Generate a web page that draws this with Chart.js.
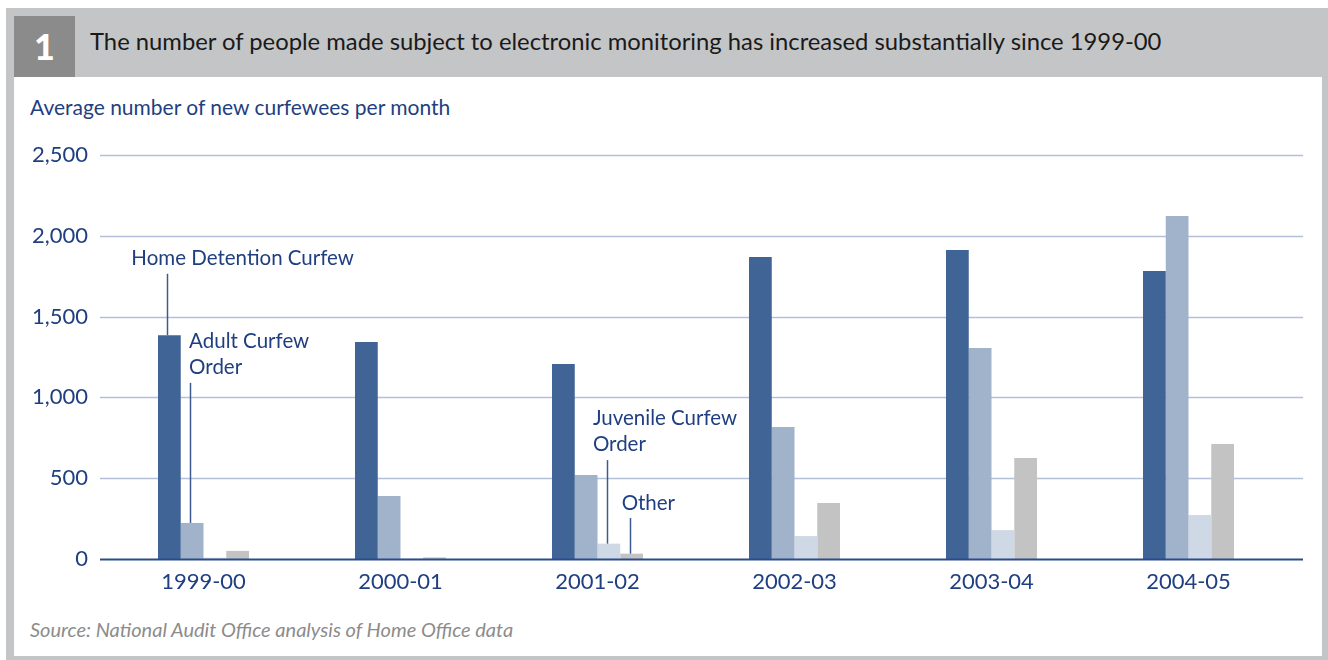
<!DOCTYPE html>
<html>
<head>
<meta charset="utf-8">
<script src="https://cdn.jsdelivr.net/npm/chart.js@4"></script>
<style>
  html, body { margin: 0; padding: 0; background: #fff; }
  body { width: 1328px; height: 660px; position: relative; overflow: hidden; font-family: Lato, "Noto Sans", sans-serif; }
  .frame { position: absolute; left: 6px; top: 8px; width: 1322px; height: 652px; background: #c4c5c6; }
  .num { position: absolute; left: 14px; top: 16px; width: 61px; height: 61px; background: #8b8b8c; color: #fff;
         font-weight: 900; font-size: 36px; line-height: 61px; text-align: center; }
  .title { position: absolute; left: 90px; top: 27px; font-size: 23.8px; color: #1a1a1a; white-space: nowrap; }
  .panel { position: absolute; left: 14px; top: 77px; width: 1308px; height: 579px; background: #fff; }
  .ylabel { position: absolute; left: 30px; top: 94px; font-size: 21px; color: #1f3f80; white-space: nowrap; }
  .source { position: absolute; left: 30px; top: 617px; font-size: 20px; font-style: italic; color: #8c8c8c; white-space: nowrap; }
  canvas { position: absolute; left: 0; top: 0; }
</style>
</head>
<body>
<div class="frame"></div>
<div class="num">1</div>
<div class="title">The number of people made subject to electronic monitoring has increased substantially since 1999-00</div>
<div class="panel"></div>
<div class="ylabel">Average number of new curfewees per month</div>
<div class="source">Source: National Audit Office analysis of Home Office data</div>
<canvas id="chart" width="1328" height="660"></canvas>
<script>
const years = ['1999-00', '2000-01', '2001-02', '2002-03', '2003-04', '2004-05'];
const homeDetention = [1385, 1343, 1207, 1869, 1912, 1782];
const adultCurfew = [223, 390, 520, 817, 1306, 2122];
const juvenileCurfew = [8, 3, 95, 142, 179, 272];
const other = [50, 10, 33, 347, 625, 711];

const navy = '#1f3f80';
const font = 'Lato, "Noto Sans", sans-serif';

// callouts: which bar they point at, text lines, label value on the y axis
const callouts = [
    { ds: 0, idx: 0, lines: ['Home Detention Curfew'], dx: -38, labelAt: 1863, lineFrom: 1765 },
    { ds: 1, idx: 0, lines: ['Adult Curfew', 'Order'], dx: -3, labelAt: 1344, lineFrom: 1090 },
    { ds: 2, idx: 2, lines: ['Juvenile Curfew', 'Order'], dx: -16, labelAt: 873, lineFrom: 612 },
    { ds: 3, idx: 2, lines: ['Other'], dx: -10, labelAt: 347, lineFrom: 254 }
];

const framePlugin = {
    id: 'frameLines',
    beforeDatasetsDraw(chart) {
        const { ctx, scales: { y } } = chart;
        ctx.save();
        ctx.strokeStyle = '#b3c0d8';
        ctx.lineWidth = 1.5;
        y.ticks.forEach(t => {
            if (t.value === 0) return;
            const py = Math.round(y.getPixelForValue(t.value)) + 0.5;
            ctx.beginPath();
            ctx.moveTo(100, py);
            ctx.lineTo(1303, py);
            ctx.stroke();
        });
        ctx.restore();
    },
    afterDatasetsDraw(chart) {
        const { ctx, scales: { y } } = chart;
        ctx.save();
        // baseline
        ctx.strokeStyle = '#2a4c8c';
        ctx.lineWidth = 2;
        const by = y.getPixelForValue(0) + 0.5;
        ctx.beginPath();
        ctx.moveTo(100, by);
        ctx.lineTo(1303, by);
        ctx.stroke();

        // callouts
        ctx.font = '20.5px ' + font;
        ctx.fillStyle = navy;
        ctx.textBaseline = 'middle';
        ctx.strokeStyle = '#3d5a90';
        ctx.lineWidth = 1.5;
        callouts.forEach(c => {
            const bar = chart.getDatasetMeta(c.ds).data[c.idx];
            const x = Math.round(bar.x) - 1.5;
            ctx.beginPath();
            ctx.moveTo(x, y.getPixelForValue(c.lineFrom));
            ctx.lineTo(x, bar.y);
            ctx.stroke();
            const ty = y.getPixelForValue(c.labelAt);
            c.lines.forEach((line, i) => ctx.fillText(line, bar.x + c.dx, ty + i * 26));
        });
        ctx.restore();
    }
};

new Chart(document.getElementById('chart'), {
    type: 'bar',
    data: {
        labels: years,
        datasets: [
            { label: 'Home Detention Curfew', data: homeDetention, backgroundColor: '#416496' },
            { label: 'Adult Curfew Order', data: adultCurfew, backgroundColor: '#a1b2cb' },
            { label: 'Juvenile Curfew Order', data: juvenileCurfew, backgroundColor: '#cfd9e5' },
            { label: 'Other', data: other, backgroundColor: '#c3c3c4' }
        ]
    },
    options: {
        responsive: false,
        animation: false,
        layout: { padding: { top: 155, right: 41, bottom: 0, left: 0 } },
        datasets: { bar: { barPercentage: 1, categoryPercentage: 0.462 } },
        plugins: { legend: { display: false }, tooltip: { enabled: false } },
        scales: {
            x: {
                grid: { display: false, drawTicks: false },
                border: { display: false },
                ticks: { color: navy, font: { family: font, size: 22 }, padding: 10 },
                afterFit: s => { s.height = 101; }
            },
            y: {
                min: 0,
                max: 2500,
                grid: { display: false, drawTicks: false },
                border: { display: false },
                ticks: {
                    stepSize: 500,
                    color: navy,
                    font: { family: font, size: 22 },
                    padding: 17,
                    callback: v => v.toLocaleString('en-GB')
                },
                afterFit: s => { s.width = 105; }
            }
        }
    },
    plugins: [framePlugin]
});
</script>
</body>
</html>
